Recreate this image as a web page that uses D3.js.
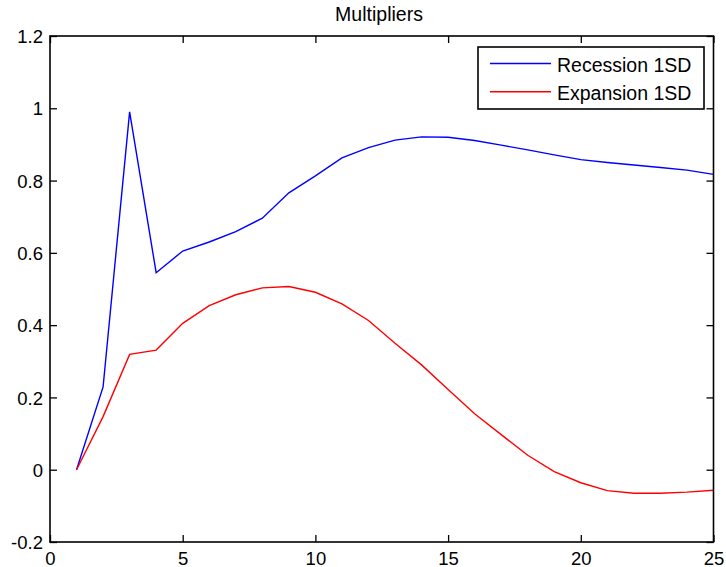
<!DOCTYPE html>
<html>
<head>
<meta charset="utf-8">
<script src="https://cdn.jsdelivr.net/npm/d3@7"></script>
<style>
  html, body { margin: 0; padding: 0; background: #fff; }
  svg { display: block; font-family: "Liberation Sans", Arial, Helvetica, sans-serif; }
</style>
</head>
<body>
<svg id="chart" width="726" height="567"></svg>
<script>
// Horizon (periods)
const horizons = d3.range(1, 26);

// Multiplier responses by regime
const recession = [0, 0.229, 0.990, 0.545, 0.605, 0.630, 0.659, 0.696, 0.766, 0.813,
  0.863, 0.891, 0.912, 0.921, 0.920, 0.911, 0.898, 0.885, 0.871, 0.858,
  0.850, 0.843, 0.836, 0.829, 0.817];
const expansion = [0, 0.147, 0.319, 0.331, 0.405, 0.454, 0.484, 0.503, 0.507, 0.491,
  0.459, 0.413, 0.350, 0.290, 0.222, 0.155, 0.097, 0.040, -0.005, -0.036,
  -0.058, -0.065, -0.065, -0.062, -0.057];

const seriesNames = ["Recession 1SD", "Expansion 1SD"];
const seriesColors = ["#0000ff", "#ff0000"];

const xTicks = [0, 5, 10, 15, 20, 25];
const yTicks = [-0.2, 0, 0.2, 0.4, 0.6, 0.8, 1, 1.2];
const yTickLabels = ["-0.2", "0", "0.2", "0.4", "0.6", "0.8", "1", "1.2"];

const svg = d3.select("#chart");
const plotL = 50, plotR = 713.5, plotT = 36, plotB = 542;

const x = d3.scaleLinear().domain([0, 25]).range([plotL, plotR]);
const y = d3.scaleLinear().domain([-0.2, 1.2]).range([plotB, plotT]);

const tickLen = 7;
const tickFont = 18.5;
const legendFont = 19.5;

// Frame ticks on all four sides, pointing inward
const axB = svg.append("g").attr("transform", `translate(0,${plotB})`)
  .call(d3.axisBottom(x).tickValues(xTicks).tickSizeInner(-tickLen).tickSizeOuter(0));
const axT = svg.append("g").attr("transform", `translate(0,${plotT})`)
  .call(d3.axisTop(x).tickValues(xTicks).tickSizeInner(-tickLen).tickSizeOuter(0).tickFormat(""));
const axL = svg.append("g").attr("transform", `translate(${plotL},0)`)
  .call(d3.axisLeft(y).tickValues(yTicks).tickSizeInner(-tickLen).tickSizeOuter(0).tickPadding(7)
    .tickFormat((d, i) => yTickLabels[i]));
const axR = svg.append("g").attr("transform", `translate(${plotR},0)`)
  .call(d3.axisRight(y).tickValues(yTicks).tickSizeInner(-tickLen).tickSizeOuter(0).tickFormat(""));

[axB, axT, axL, axR].forEach(g => {
  g.select(".domain").remove();
  g.selectAll(".tick line").attr("stroke", "#000").attr("stroke-width", 1.3);
  g.selectAll("text").attr("fill", "#000").style("font-size", tickFont + "px")
    .style("font-family", "'Liberation Sans', Arial, sans-serif");
});
axB.selectAll("text").attr("y", 22.5).attr("dy", 0);
axL.selectAll("text").attr("dy", "0.36em");

// Data lines
const line = d3.line().x((d, i) => x(horizons[i])).y(d => y(d));
[recession, expansion].forEach((s, k) => {
  svg.append("path").datum(s)
    .attr("fill", "none")
    .attr("stroke", seriesColors[k])
    .attr("stroke-width", 1.4)
    .attr("d", line);
});

// Axes box
svg.append("rect")
  .attr("x", plotL).attr("y", plotT)
  .attr("width", plotR - plotL).attr("height", plotB - plotT)
  .attr("fill", "none").attr("stroke", "#000").attr("stroke-width", 1.6);

// Title
svg.append("text")
  .attr("x", 379).attr("y", 20.5)
  .attr("text-anchor", "middle")
  .style("font-size", "19.5px")
  .attr("fill", "#000")
  .text("Multipliers");

// Legend
const lg = svg.append("g");
lg.append("rect")
  .attr("x", 478).attr("y", 47).attr("width", 226).attr("height", 62)
  .attr("fill", "#fff").attr("stroke", "#000").attr("stroke-width", 1.6);
seriesNames.forEach((name, k) => {
  const yy = 63.5 + k * 28.3;
  lg.append("line").attr("x1", 490).attr("x2", 551).attr("y1", yy).attr("y2", yy)
    .attr("stroke", seriesColors[k]).attr("stroke-width", 1.4);
  lg.append("text").attr("x", 557).attr("y", yy + 8.3)
    .style("font-size", legendFont + "px").attr("fill", "#000").text(name);
});
</script>
</body>
</html>
